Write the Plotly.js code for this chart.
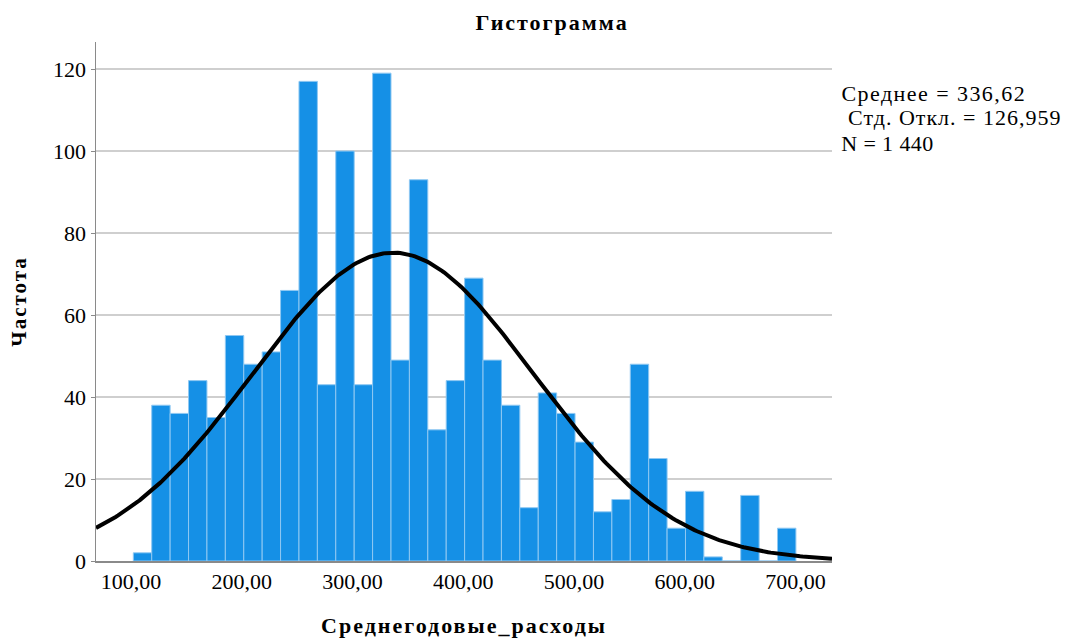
<!DOCTYPE html>
<html>
<head>
<meta charset="utf-8">
<script src="https://cdn.plot.ly/plotly-3.0.1.min.js"></script>
<style>
html,body{margin:0;padding:0;background:#fff;}
#chart{width:1072px;height:639px;}
#chart .gtitle, #chart .g-xtitle text, #chart .g-ytitle text{letter-spacing:2px;}
#chart .annotation[data-index="0"] .annotation-text{letter-spacing:1.45px;}
#chart .annotation[data-index="1"] .annotation-text{letter-spacing:1px;}
#chart .annotation[data-index="2"] .annotation-text{letter-spacing:0.4px;}
</style>
</head>
<body>
<div id="chart"></div>
<script>
// Histogram counts (36 bins)
const binStart = 102.1;
const binWidth = 16.62;
const counts = [2, 38, 36, 44, 35, 55, 48, 51, 66, 117, 43, 100, 43, 119, 49, 93, 32, 44,
                69, 49, 38, 13, 41, 36, 29, 12, 15, 48, 25, 8, 17, 1, 0, 16, 0, 8];
// Stated statistics
const meanVal = 336.62;
const sdVal = 126.959;
const nVal = 1440;
// Axis ticks
const xTickVals = [100, 200, 300, 400, 500, 600, 700];
const xTickText = ["100,00", "200,00", "300,00", "400,00", "500,00", "600,00", "700,00"];
const yTickVals = [0, 20, 40, 60, 80, 100, 120];
const statsLines = ["Среднее = 336,62", "Стд. Откл. = 126,959", "N = 1 440"];

const centers = counts.map((_, i) => binStart + binWidth * (i + 0.5));

const xMin = 68.4, xMax = 733;
const curveX = [], curveY = [];
for (let i = 0; i <= 300; i++) {
  const x = xMin + (xMax - xMin) * i / 300;
  const z = (x - meanVal) / sdVal;
  curveX.push(x);
  curveY.push(nVal * binWidth * Math.exp(-0.5 * z * z) / (sdVal * Math.sqrt(2 * Math.PI)));
}

const font = "Liberation Serif, Times New Roman, serif";

const traces = [
  {
    type: "bar", x: centers, y: counts, width: binWidth,
    marker: {color: "#1590e6", line: {color: "#8fc8f2", width: 1}},
    hoverinfo: "skip", showlegend: false
  },
  {
    type: "scatter", mode: "lines", x: curveX, y: curveY,
    line: {color: "#000", width: 4}, hoverinfo: "skip", showlegend: false
  }
];

const statFont = {family: font, size: 22, color: "#000"};

const layout = {
  width: 1072, height: 639,
  margin: {l: 96, r: 240, t: 42, b: 78},
  paper_bgcolor: "#fff", plot_bgcolor: "#fff",
  font: {family: font, color: "#000", size: 22},
  title: {text: "<b>Гистограмма</b>", font: {family: font, size: 22, color: "#000"}, x: 0.515, xanchor: "center", y: 0.965, yanchor: "middle"},
  bargap: 0,
  xaxis: {
    range: [xMin, xMax], tickvals: xTickVals, ticktext: xTickText,
    showgrid: false, zeroline: false, showline: true, linecolor: "#8a8a8a", linewidth: 1.5,
    ticks: "", tickfont: {family: font, size: 22, color: "#000"},
    title: {text: "<b>Среднегодовые_расходы</b>", font: {family: font, size: 22, color: "#000"}, standoff: 24}
  },
  yaxis: {
    range: [0, 126.6], tickvals: yTickVals,
    showgrid: true, gridcolor: "#cfcfcf", gridwidth: 1.5, zeroline: false,
    showline: true, linecolor: "#8a8a8a", linewidth: 1.5,
    ticks: "outside", ticklen: 4, tickcolor: "#8a8a8a",
    tickfont: {family: font, size: 22, color: "#000"},
    title: {text: "<b>Частота</b>", font: {family: font, size: 21, color: "#000"}, standoff: 20}
  },
  annotations: [
    {xref: "paper", yref: "paper", x: 1.0255, y: 0.9008, xanchor: "left", yanchor: "middle", showarrow: false,
     text: statsLines[0], font: statFont},
    {xref: "paper", yref: "paper", x: 1.0329, y: 0.8536, xanchor: "left", yanchor: "middle", showarrow: false,
     text: statsLines[1], font: statFont},
    {xref: "paper", yref: "paper", x: 1.0122, y: 0.8044, xanchor: "left", yanchor: "middle", showarrow: false,
     text: statsLines[2], font: statFont}
  ]
};

Plotly.newPlot("chart", traces, layout, {displayModeBar: false, staticPlot: true});
</script>
</body>
</html>
